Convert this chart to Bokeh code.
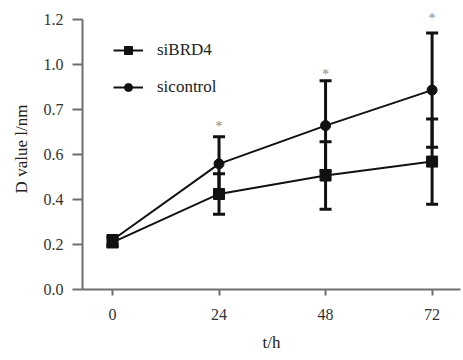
from bokeh.plotting import figure
from bokeh.models import ColumnDataSource, Whisker, FixedTicker, Legend, LegendItem
from bokeh.core.properties import value
from bokeh.embed import file_html
from bokeh.resources import INLINE

# data
t = [0, 24, 48, 72]
sibrd4 = [0.21, 0.425, 0.507, 0.569]
sibrd4_err = [0.02, 0.09, 0.15, 0.19]
sicontrol = [0.22, 0.559, 0.729, 0.887]
sicontrol_err = [0.02, 0.12, 0.20, 0.254]
star_t = [24, 48, 72]
star_y = [0.744, 0.978, 1.227]
y_ticks = [0.0, 0.2, 0.4, 0.6, 0.8, 1.0, 1.2]
y_tick_labels = ["0.0", "0.2", "0.4", "0.6", "0.7", "1.0", "1.2"]
x_ticks = [0, 24, 48, 72]

FONT = "Liberation Serif"
INK = "#111111"
AXIS = "#6e6e6e"

p = figure(frame_width=378, frame_height=281, x_range=(-6.76, 78.4), y_range=(0, 1.25),
           output_backend="svg", toolbar_location=None,
           min_border_left=82, min_border_right=3, min_border_top=8, min_border_bottom=71)
p.outline_line_color = None
p.grid.visible = False
p.background_fill_color = "white"

s1 = ColumnDataSource(dict(x=t, y=sibrd4, lo=[a - b for a, b in zip(sibrd4, sibrd4_err)],
                           hi=[a + b for a, b in zip(sibrd4, sibrd4_err)]))
s2 = ColumnDataSource(dict(x=t, y=sicontrol, lo=[a - b for a, b in zip(sicontrol, sicontrol_err)],
                           hi=[a + b for a, b in zip(sicontrol, sicontrol_err)]))

for src in (s1, s2):
    w = Whisker(source=src, base="x", lower="lo", upper="hi", line_color=INK, line_width=3)
    w.upper_head.size = 12
    w.lower_head.size = 12
    w.upper_head.line_width = 3
    w.lower_head.line_width = 3
    w.upper_head.line_color = INK
    w.lower_head.line_color = INK
    p.add_layout(w)

l1 = p.line("x", "y", source=s1, line_color=INK, line_width=2)
m1 = p.scatter("x", "y", source=s1, marker="square", size=11, fill_color=INK, line_color=INK)
l2 = p.line("x", "y", source=s2, line_color=INK, line_width=2)
m2 = p.scatter("x", "y", source=s2, marker="circle", size=10, fill_color=INK, line_color=INK)

p.text(x=star_t, y=star_y, text=["*"] * len(star_t), text_font=value(FONT),
       text_font_size="14px", text_color="#8a8a8a", text_align="center", text_baseline="top",
       y_offset=-3)

legend = Legend(items=[LegendItem(label="siBRD4", renderers=[l1, m1]),
                       LegendItem(label="sicontrol", renderers=[l2, m2])],
                location=(31, 192), orientation="vertical")
legend.border_line_color = None
legend.background_fill_alpha = 0
legend.label_text_font = FONT
legend.label_text_font_size = "17px"
legend.label_text_color = "#222222"
legend.glyph_width = 30
legend.glyph_height = 20
legend.label_height = 20
legend.spacing = 17
legend.padding = 0
legend.margin = 0
legend.label_standoff = 14
p.add_layout(legend)

p.xaxis.ticker = FixedTicker(ticks=x_ticks)
p.yaxis.ticker = FixedTicker(ticks=y_ticks)
p.yaxis.major_label_overrides = {v: s for v, s in zip(y_ticks, y_tick_labels)}
p.yaxis.bounds = (0, 1.2)

for ax in (p.xaxis[0], p.yaxis[0]):
    ax.axis_line_color = AXIS
    ax.axis_line_width = 2
    ax.major_tick_line_color = AXIS
    ax.major_tick_line_width = 2
    ax.minor_tick_line_color = None
    ax.major_tick_in = 0
    ax.major_label_text_font = FONT
    ax.major_label_text_font_size = "16px"
    ax.major_label_text_color = "#333333"
    ax.axis_label_text_font = FONT
    ax.axis_label_text_font_size = "17px"
    ax.axis_label_text_font_style = "normal"
    ax.axis_label_text_color = "#222222"

p.xaxis.major_tick_out = 6
p.xaxis.major_label_standoff = 13
p.xaxis.axis_label = "t/h"
p.xaxis.axis_label_standoff = 10
p.yaxis.major_tick_out = 10
p.yaxis.major_label_standoff = 9
p.yaxis.axis_label = "D value l/nm"
p.yaxis.axis_label_standoff = 10

open("out.html", "w").write(file_html(p, INLINE))
